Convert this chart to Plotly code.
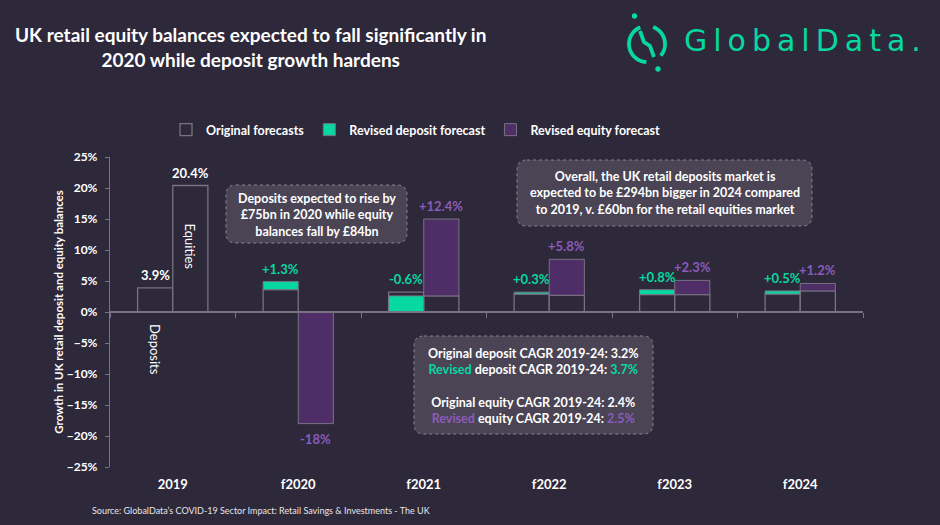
import numpy as np
import plotly.graph_objects as go

# ---------------- data ----------------
categories = ["2019", "f2020", "f2021", "f2022", "f2023", "f2024"]
original_deposit = [3.9, 3.6, 3.2, 2.9, 2.8, 2.9]
original_equity = [20.4, None, 2.6, 2.7, 2.8, 3.4]
revised_deposit = [None, 4.9, 2.6, 3.2, 3.6, 3.4]
revised_equity = [None, -18.0, 15.0, 8.5, 5.1, 4.6]
deposit_change_labels = ["", "+1.3%", "-0.6%", "+0.3%", "+0.8%", "+0.5%"]
equity_change_labels = ["", "-18%", "+12.4%", "+5.8%", "+2.3%", "+1.2%"]
original_value_labels_2019 = ["3.9%", "20.4%"]

# ---------------- style ----------------
BG = "#2D283A"
GREEN = "#07D8A2"
PURPLE = "#4F2E67"
PURPLE_TXT = "#8A5CBC"
GRAY = "#777380"
BOX = "#4A4454"
WHITE = "#FFFFFF"
FONT = "Lato"

W, H = 940, 525
ML, MR, MT, MB = 110, 77, 157, 58
PW, PH = W - ML - MR, H - MT - MB


def px(x):
    return (x - ML) / PW


def py(y):
    return (H - MB - y) / PH


def seg(orig, rev):
    if rev is None:
        return None, None
    if orig is None or rev < orig:
        return 0.0, rev
    return orig, rev - orig


dep_base, dep_h = zip(*[seg(o, r) for o, r in zip(original_deposit, revised_deposit)])
eq_base, eq_h = zip(*[seg(o, r) for o, r in zip(original_equity, revised_equity)])

BW = 0.28
fig = go.Figure()
fig.add_trace(go.Bar(x=categories, y=original_deposit, offset=-BW, width=BW,
                     marker=dict(color=BG, line=dict(color=GRAY, width=1.3)),
                     name="Original forecasts", hoverinfo="skip"))
fig.add_trace(go.Bar(x=categories, y=original_equity, offset=0, width=BW,
                     marker=dict(color=BG, line=dict(color=GRAY, width=1.3)),
                     name="Original equity", showlegend=False, hoverinfo="skip"))
fig.add_trace(go.Bar(x=categories, y=list(dep_h), base=list(dep_base), offset=-BW, width=BW,
                     marker=dict(color=GREEN, line=dict(color=GRAY, width=1)),
                     name="Revised deposit forecast", hoverinfo="skip"))
fig.add_trace(go.Bar(x=categories, y=list(eq_h), base=list(eq_base), offset=0, width=BW,
                     marker=dict(color=PURPLE, line=dict(color=GRAY, width=1)),
                     name="Revised equity forecast", hoverinfo="skip"))
# invisible trace to carry the zero-line axis
fig.add_trace(go.Scatter(x=[-0.5, 5.5], y=[0, 0], xaxis="x2", mode="lines",
                         line=dict(width=0), opacity=0, showlegend=False, hoverinfo="skip"))

ann = []
lab_font = dict(family=FONT, size=13, color=WHITE, weight="bold")

# value labels
for i, c in enumerate(categories):
    if i == 0:
        ann.append(dict(x=i - BW / 2, y=original_deposit[i], xref="x", yref="y", text=original_value_labels_2019[0],
                        showarrow=False, xanchor="center", yanchor="bottom", yshift=3, font=lab_font))
        ann.append(dict(x=i + BW / 2, y=original_equity[i], xref="x", yref="y", text=original_value_labels_2019[1],
                        showarrow=False, xanchor="center", yanchor="bottom", yshift=3, font=lab_font))
        continue
    top_d = max(v for v in [original_deposit[i], revised_deposit[i]] if v is not None)
    ann.append(dict(x=i - BW / 2, y=top_d, xref="x", yref="y", text=deposit_change_labels[i],
                    showarrow=False, xanchor="center", yanchor="bottom", yshift=3,
                    font=dict(family=FONT, size=13, color=GREEN, weight="bold")))
    re = revised_equity[i]
    if re < 0:
        ann.append(dict(x=i + BW / 2, y=re, xref="x", yref="y", text=equity_change_labels[i],
                        showarrow=False, xanchor="center", yanchor="top", yshift=-5,
                        font=dict(family=FONT, size=13, color=PURPLE_TXT, weight="bold")))
    else:
        top_e = max(v for v in [original_equity[i], re] if v is not None)
        ann.append(dict(x=i + BW / 2, y=top_e, xref="x", yref="y", text=equity_change_labels[i],
                        showarrow=False, xanchor="center", yanchor="bottom", yshift=3,
                        font=dict(family=FONT, size=13, color=PURPLE_TXT, weight="bold")))

# rotated in-bar labels
ann.append(dict(x=0 - BW / 2, y=-6, xref="x", yref="y", text="Deposits", textangle=90,
                showarrow=False, xanchor="center", yanchor="middle",
                font=dict(family=FONT, size=13, color=WHITE)))
ann.append(dict(x=0 + BW / 2, y=10.5, xref="x", yref="y", text="Equities", textangle=90,
                showarrow=False, xanchor="center", yanchor="middle",
                font=dict(family=FONT, size=13, color=WHITE)))

# title
ann.append(dict(x=px(250), y=py(47), xref="paper", yref="paper",
                text="UK retail equity balances expected to fall significantly in<br>2020 while deposit growth hardens",
                showarrow=False, align="center", xanchor="center", yanchor="middle",
                font=dict(family=FONT, size=19, color=WHITE, weight="bold")))

# logo text
ann.append(dict(x=px(682), y=py(40), xref="paper", yref="paper",
                text="<span style='letter-spacing:6px'>GlobalData.</span>",
                showarrow=False, xanchor="left", yanchor="middle",
                font=dict(family="DejaVu Sans", size=30, color=GREEN)))

# source
ann.append(dict(x=px(90), y=py(510), xref="paper", yref="paper",
                text="Source: GlobalData\u2019s COVID-19 Sector Impact: Retail Savings & Investments - The UK",
                showarrow=False, xanchor="left", yanchor="middle",
                font=dict(family=FONT, size=9, color="#E6E6E6")))

# text boxes
box_font = dict(family=FONT, size=12.5, color=WHITE, weight="bold")
ann.append(dict(x=px(316.5), y=py(215), xref="paper", yref="paper",
                text="Deposits expected to rise by<br>\u00a375bn in 2020 while equity<br>balances fall by \u00a384bn",
                showarrow=False, align="center", xanchor="center", yanchor="middle", font=box_font))
ann.append(dict(x=px(664.5), y=py(193), xref="paper", yref="paper",
                text="Overall, the UK retail deposits market is<br>expected to be \u00a3294bn bigger in 2024 compared<br>to 2019, v. \u00a360bn for the retail equities market",
                showarrow=False, align="center", xanchor="center", yanchor="middle", font=box_font))
ann.append(dict(x=px(533.5), y=py(386), xref="paper", yref="paper",
                text=("Original deposit CAGR 2019-24: 3.2%<br>"
                      f"<span style='color:{GREEN}'>Revised</span> deposit CAGR 2019-24: <span style='color:{GREEN}'>3.7%</span><br><br>"
                      "Original equity CAGR 2019-24: 2.4%<br>"
                      f"<span style='color:{PURPLE_TXT}'>Revised</span> equity CAGR 2019-24: <span style='color:{PURPLE_TXT}'>2.5%</span>"),
                showarrow=False, align="center", xanchor="center", yanchor="middle", font=box_font))


def rrect(x0, y0, x1, y1, r):
    X = lambda v: f"{px(v):.5f}"
    Y = lambda v: f"{py(v):.5f}"
    return (f"M{X(x0 + r)},{Y(y0)} L{X(x1 - r)},{Y(y0)} Q{X(x1)},{Y(y0)} {X(x1)},{Y(y0 + r)} "
            f"L{X(x1)},{Y(y1 - r)} Q{X(x1)},{Y(y1)} {X(x1 - r)},{Y(y1)} "
            f"L{X(x0 + r)},{Y(y1)} Q{X(x0)},{Y(y1)} {X(x0)},{Y(y1 - r)} "
            f"L{X(x0)},{Y(y0 + r)} Q{X(x0)},{Y(y0)} {X(x0 + r)},{Y(y0)} Z")


shapes = []
for (x0, y0, x1, y1) in [(226, 185, 407, 243), (517, 160, 812, 226), (414, 336, 653, 434)]:
    shapes.append(dict(type="path", xref="paper", yref="paper", path=rrect(x0, y0, x1, y1, 10),
                       fillcolor=BOX, line=dict(color="#8A8594", width=1, dash="dot"), layer="below"))


# logo icon
def arc_path(cx, cy, r, a0, a1, n=30):
    angs = np.radians(np.linspace(a0, a1, n))
    pts = [(cx + r * np.cos(a), cy - r * np.sin(a)) for a in angs]
    return "M" + " L".join(f"{px(x):.5f},{py(y):.5f}" for x, y in pts)


def poly_path(pts):
    return "M" + " L".join(f"{px(x):.5f},{py(y):.5f}" for x, y in pts)


cx, cy, r = 647, 44, 18
icon_line = dict(color=GREEN, width=3.8)
shapes.append(dict(type="path", xref="paper", yref="paper", path=arc_path(cx, cy, r, 112, 268), line=icon_line))
shapes.append(dict(type="path", xref="paper", yref="paper", path=arc_path(cx, cy, r, 70, -40), line=icon_line))
shapes.append(dict(type="path", xref="paper", yref="paper",
                   path=poly_path([(640, 31), (644, 42), (650, 46), (654, 57)]), line=icon_line))
for (dx, dy) in [(634.5, 16), (658, 69)]:
    shapes.append(dict(type="circle", xref="paper", yref="paper",
                       x0=px(dx - 2.7), x1=px(dx + 2.7), y0=py(dy + 2.7), y1=py(dy - 2.7),
                       fillcolor=GREEN, line=dict(width=0)))

fig.update_layout(
    template="none",
    width=W, height=H,
    margin=dict(l=ML, r=MR, t=MT, b=MB, autoexpand=False),
    paper_bgcolor=BG, plot_bgcolor=BG,
    barmode="overlay",
    showlegend=True,
    legend=dict(orientation="h", x=px(166), y=py(130), xanchor="left", yanchor="middle",
                font=dict(family=FONT, size=12.5, color=WHITE, weight="bold"),
                bgcolor="rgba(0,0,0,0)", itemwidth=30, tracegroupgap=0),
    xaxis=dict(type="category", range=[-0.5, 5.5], showline=False, ticks="", showgrid=False,
               zeroline=False, automargin=False, ticklabelstandoff=8,
               tickfont=dict(family=FONT, size=13, color=WHITE, weight="bold")),
    xaxis2=dict(overlaying="x", anchor="free", position=0.5, range=[-0.5, 5.5],
                tickmode="array", tickvals=[-0.5, 0.5, 1.5, 2.5, 3.5, 4.5, 5.5],
                ticks="outside", ticklen=5, tickcolor=GRAY, tickwidth=1.3,
                showline=True, linecolor=GRAY, linewidth=1.5, showticklabels=False,
                showgrid=False, zeroline=False, automargin=False),
    yaxis=dict(range=[-25, 25], tickmode="linear", tick0=0, dtick=5, ticksuffix="%",
               showline=True, linecolor=GRAY, linewidth=1.3, ticks="outside", ticklen=4,
               tickcolor=GRAY, showgrid=False, zeroline=False, automargin=False,
               ticklabelstandoff=5,
               tickfont=dict(family=FONT, size=12, color=WHITE, weight="bold"),
               title=dict(text="Growth in UK retail deposit and equity balances", standoff=0,
                          font=dict(family=FONT, size=11.5, color=WHITE, weight="bold"))),
    annotations=ann,
    shapes=shapes,
)

fig.write_html("out.html", config={"displayModeBar": False},
               post_script="document.body.style.margin='0px';document.body.style.overflow='hidden';")
